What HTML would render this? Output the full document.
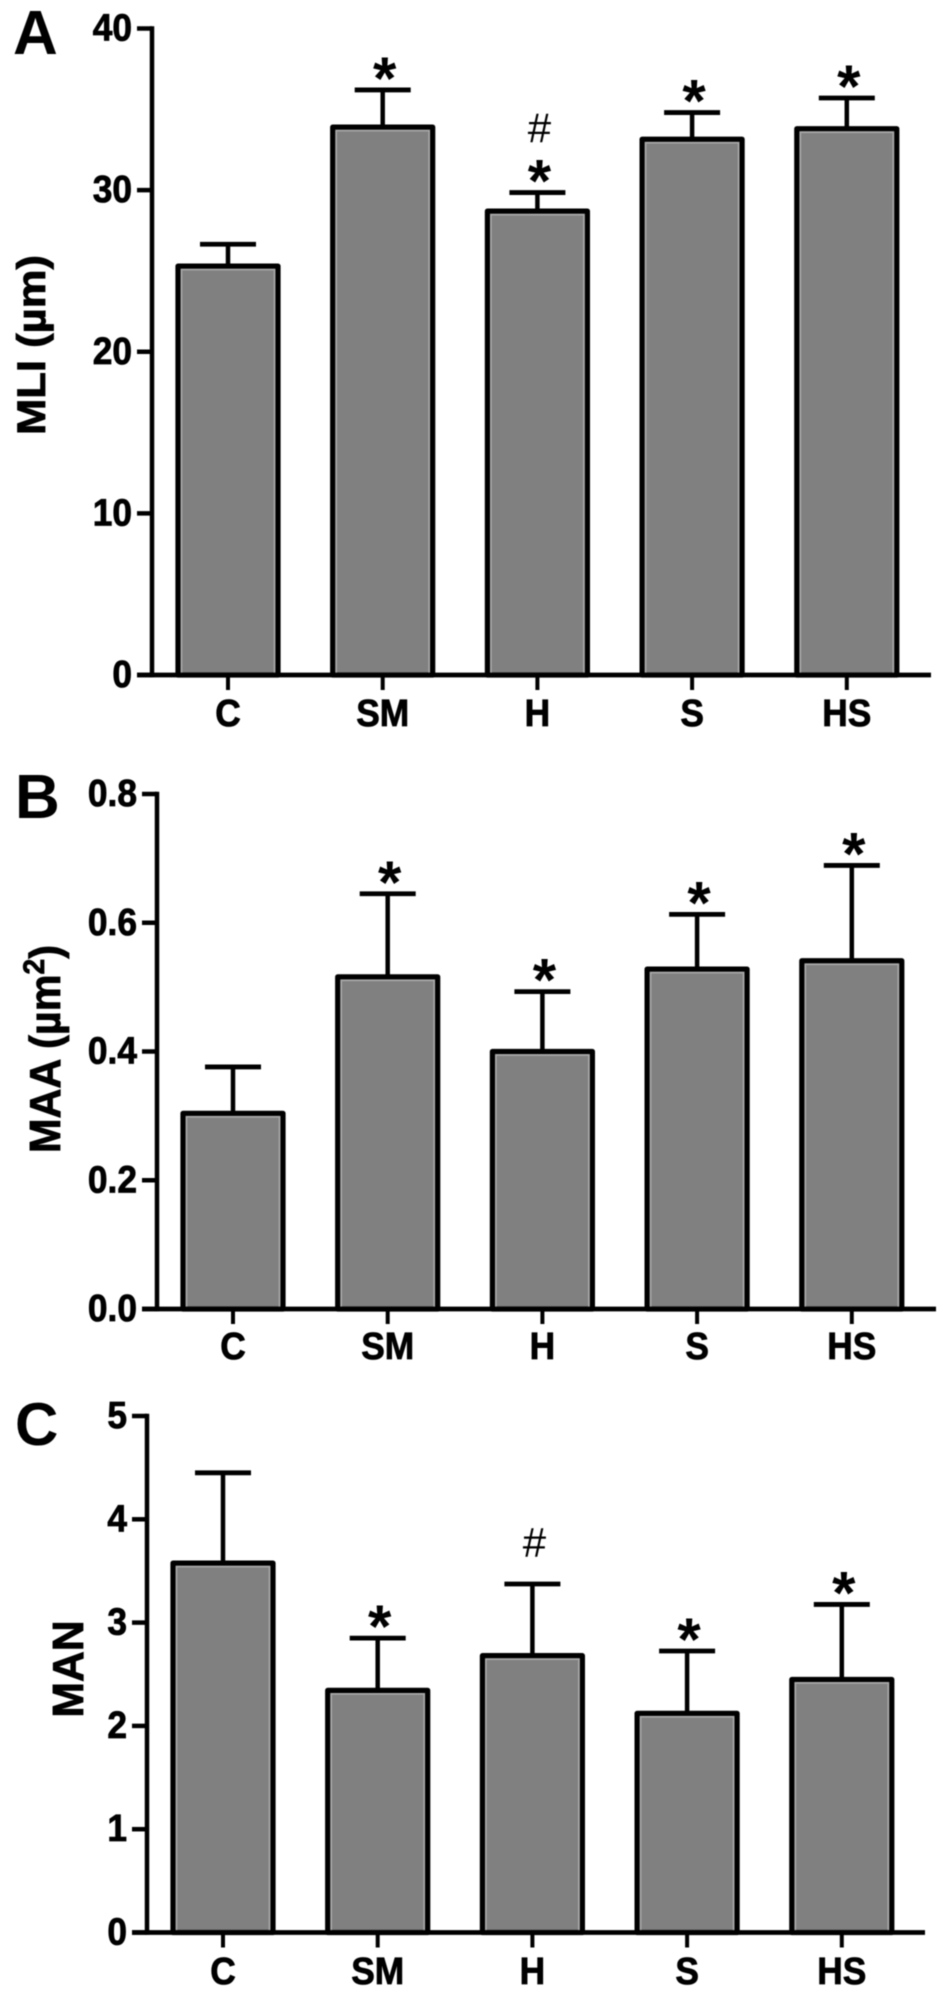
<!DOCTYPE html>
<html lang="en">
<head>
<meta charset="utf-8">
<title>MLI, MAA and MAN bar charts</title>
<style>
html,body{margin:0;padding:0;background:#fff;width:945px;height:1996px;overflow:hidden}
svg{display:block;filter:blur(0.4px)}
text{font-family:"Liberation Sans",Arial,sans-serif;fill:#000}
.bold{font-weight:700}
.heavy{font-weight:700;stroke:#000;stroke-width:0.8px}
</style>
</head>
<body>
<svg id="figure" xmlns="http://www.w3.org/2000/svg" width="945" height="1996" viewBox="0 0 945 1996">
  <rect x="0" y="0" width="945" height="1996" fill="#fff"/>
  <text class="bold" x="13" y="54" font-size="62">A</text>
  <text class="bold" x="15" y="818" font-size="62">B</text>
  <text class="bold" x="15" y="1445" font-size="60">C</text>
  <text class="heavy" text-anchor="middle" font-size="40" transform="translate(45,345) rotate(-90) scale(1.09,1)">MLI (µm)</text>
  <text class="heavy" text-anchor="middle" font-size="44" transform="translate(60,1049) rotate(-90) scale(0.94,1)">MAA (µm<tspan font-size="30" dy="-16">2</tspan><tspan dy="16">)</tspan></text>
  <text class="heavy" text-anchor="middle" font-size="44" transform="translate(83,1669) rotate(-90) scale(0.97,1)">MAN</text>
</svg>
<script>
const categories = ["C", "SM", "H", "S", "HS"];

const mliValues = [25.3, 33.9, 28.7, 33.15, 33.8];
const mliErrors = [1.35, 2.3, 1.15, 1.65, 1.9];
const mliTicks = [0, 10, 20, 30, 40];
const mliTickLabels = ["0", "10", "20", "30", "40"];
const mliMarks = ["", "*", "*#", "*", "*"];

const maaValues = [0.304, 0.516, 0.4, 0.528, 0.541];
const maaErrors = [0.072, 0.129, 0.093, 0.085, 0.148];
const maaTicks = [0, 0.2, 0.4, 0.6, 0.8];
const maaTickLabels = ["0.0", "0.2", "0.4", "0.6", "0.8"];
const maaMarks = ["", "*", "*", "*", "*"];

const manValues = [3.576, 2.344, 2.68, 2.122, 2.45];
const manErrors = [0.874, 0.506, 0.694, 0.603, 0.726];
const manTicks = [0, 1, 2, 3, 4, 5];
const manTickLabels = ["0", "1", "2", "3", "4", "5"];
const manMarks = ["", "*", "#", "*", "*"];

const svg = document.getElementById('figure');
const NS = 'http://www.w3.org/2000/svg';

function make(tag, attrs, parent) {
  const el = document.createElementNS(NS, tag);
  for (const k in attrs) el.setAttribute(k, attrs[k]);
  parent.appendChild(el);
  return el;
}

function line(x1, y1, x2, y2, w, parent) {
  return make('line', { x1: x1, y1: y1, x2: x2, y2: y2, stroke: '#000', 'stroke-width': w }, parent);
}

function drawPanel(key, g, values, errors, ticks, tickLabels, marks) {
  const yScale = v => g.y0 - (v / g.max) * (g.y0 - g.yTop);
  const xScale = i => g.x0 + i * g.step;

  const panel = make('g', {}, svg);
  
  

  values.forEach((v, i) => {
    const cx = xScale(i);
    const top = yScale(v);
    const capY = yScale(v + errors[i]);

    const err = make('g', {}, panel);
    
    
    line(cx, top, cx, capY, 4.5, err);
    line(cx - 28, capY, cx + 28, capY, 4.8, err);

    const bar = make('rect', { x: cx - 50, y: top, width: 100, height: g.y0 - top, fill: '#808080', stroke: '#000', 'stroke-width': 5.2, 'stroke-linejoin': 'round' }, panel);
    
    

    const rim = make('rect', { x: cx - 46.5, y: top + 3.5, width: 93, height: g.y0 - top - 5, fill: 'none', stroke: '#ababab', 'stroke-width': 1.6 }, panel);
    
    

    marks[i].split('').forEach((m, n) => {
      const isHash = m === '#';
      const gap = isHash ? (n === 0 ? 40 : 63) : 18;
      const mark = make('text', {
        x: cx + 2,
        y: capY - gap + (isHash ? 13 : 27),
        'text-anchor': 'middle',
        'font-size': isHash ? 42 : 60,
        'font-weight': isHash ? 400 : 700
      }, panel);
      mark.textContent = m;
      
      
    });

    const xt = line(cx, g.y0, cx, g.y0 + 15, 4, panel);
    
    

    const xl = make('text', { 'text-anchor': 'middle', 'font-size': 38, class: 'heavy', transform: 'translate(' + cx + ',' + g.labelY + ') scale(0.93,1)' }, panel);
    xl.textContent = categories[i];
    
    
  });

  const yAxis = line(g.xAxis, g.yTop - 2.2, g.xAxis, g.y0 + 2.2, 4.5, panel);
  
  

  const xAxis = line(g.xAxis - 15, g.y0, g.xRight, g.y0, 4.8, panel);
  
  

  ticks.forEach((t, i) => {
    const y = yScale(t);
    const tk = line(g.xAxis - 15, y, g.xAxis, y, 4.5, panel);
    
    

    const tl = make('text', { 'text-anchor': 'end', 'font-size': 38, class: 'heavy', transform: 'translate(' + (g.xAxis - 20) + ',' + (y + 12) + ') scale(0.93,1)' }, panel);
    tl.textContent = tickLabels[i];
    
    
  });
}

drawPanel('mli', { x0: 228, step: 154.7, y0: 675, yTop: 28.5, max: 40, xAxis: 152, xRight: 931, labelY: 726 },
  mliValues, mliErrors, mliTicks, mliTickLabels, mliMarks);
drawPanel('maa', { x0: 233, step: 154.7, y0: 1309, yTop: 794, max: 0.8, xAxis: 157, xRight: 936, labelY: 1359 },
  maaValues, maaErrors, maaTicks, maaTickLabels, maaMarks);
drawPanel('man', { x0: 223, step: 154.7, y0: 1932.5, yTop: 1416, max: 5, xAxis: 147, xRight: 925, labelY: 1984 },
  manValues, manErrors, manTicks, manTickLabels, manMarks);
</script>
</body>
</html>
